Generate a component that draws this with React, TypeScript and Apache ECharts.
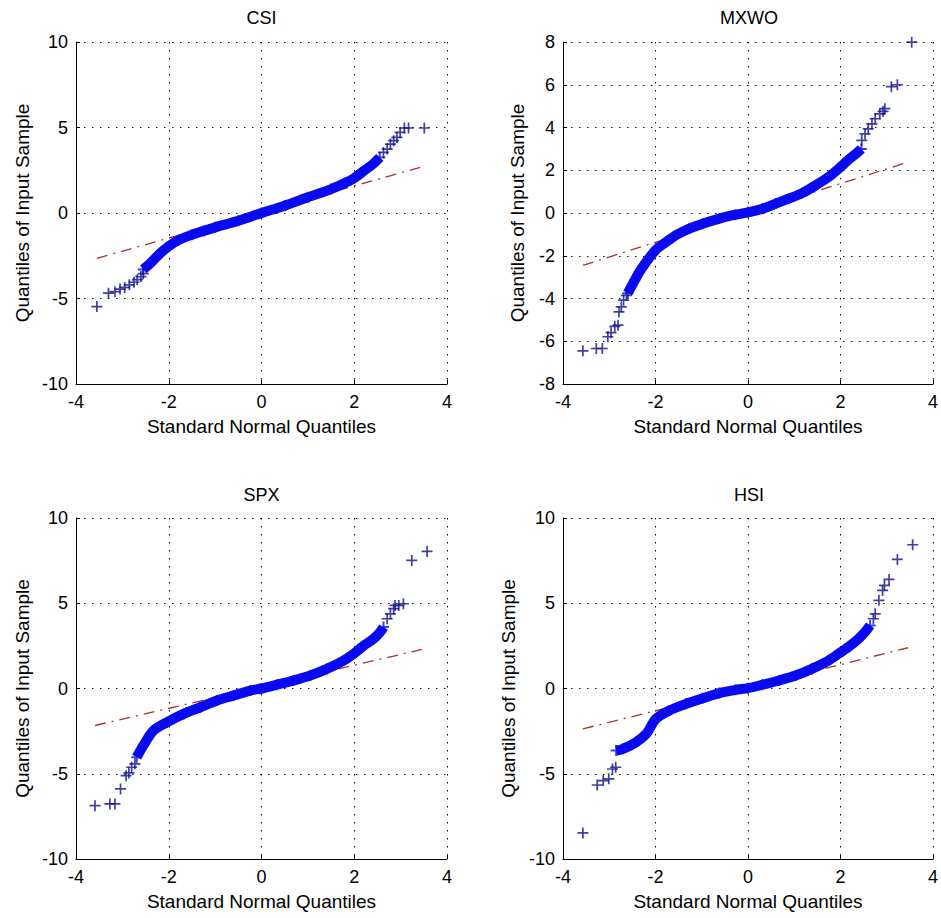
import React, { useEffect, useRef } from "react";
import * as echarts from "echarts";

// ---- data ----
const panelNames = ["CSI", "MXWO", "SPX", "HSI"];
const xTicks = { min: -4, max: 4, interval: 2 };
const yRanges = [
  { min: -10, max: 10, interval: 5 },
  { min: -8, max: 8, interval: 2 },
  { min: -10, max: 10, interval: 5 },
  { min: -10, max: 10, interval: 5 },
];

const csiBand: number[][] = [
  [-2.55, -3.3], [-2.4, -2.95], [-2.2, -2.4], [-2.0, -1.95], [-1.8, -1.6], [-1.5, -1.27],
  [-1.25, -1.05], [-1.0, -0.84], [-0.5, -0.45], [0, 0], [0.5, 0.43], [1.0, 0.92],
  [1.5, 1.4], [1.8, 1.75], [2.0, 2.04], [2.2, 2.45], [2.4, 2.85], [2.55, 3.25],
];
const csiTail: number[][] = [
  [-3.55, -5.47], [-3.3, -4.69], [-3.16, -4.6], [-3.05, -4.45], [-2.95, -4.35], [-2.85, -4.2],
  [-2.75, -4.05], [-2.68, -3.9], [-2.6, -3.72], [-2.55, -3.55],
  [2.63, 3.54], [2.71, 3.74], [2.78, 4.03], [2.85, 4.23], [2.92, 4.42], [2.99, 4.71],
  [3.08, 4.97], [3.17, 4.97], [3.51, 4.97],
];
const csiRef: number[][] = [[-3.55, -2.65], [3.5, 2.73]];

const mxwoBand: number[][] = [
  [-2.6, -3.75], [-2.45, -3.15], [-2.35, -2.76], [-2.2, -2.29], [-2.0, -1.74], [-1.77, -1.36],
  [-1.56, -1.04], [-1.27, -0.73], [-0.98, -0.5], [-0.62, -0.26], [-0.27, -0.08], [0, 0.03],
  [0.31, 0.2], [0.6, 0.44], [0.88, 0.67], [1.17, 0.93], [1.46, 1.29], [1.74, 1.68],
  [2.0, 2.15], [2.17, 2.49], [2.35, 2.8], [2.45, 3.0],
];
const mxwoTail: number[][] = [
  [-3.57, -6.45], [-3.28, -6.34], [-3.15, -6.34], [-3.03, -5.79], [-2.96, -5.6], [-2.88, -5.3],
  [-2.81, -5.25], [-2.79, -4.63], [-2.74, -4.39], [-2.69, -4.08], [-2.63, -3.85],
  [2.46, 3.4], [2.53, 3.7], [2.6, 3.94], [2.68, 4.17], [2.75, 4.41], [2.85, 4.64],
  [2.92, 4.75], [2.96, 4.88], [3.1, 5.91], [3.23, 6.0], [3.54, 7.99],
];
const mxwoRef: number[][] = [[-3.57, -2.45], [3.46, 2.38]];

const spxBand: number[][] = [
  [-2.69, -4.03], [-2.55, -3.35], [-2.33, -2.47], [-2.04, -1.98], [-1.68, -1.49], [-1.32, -1.1],
  [-0.96, -0.7], [-0.6, -0.41], [-0.24, -0.12], [0, 0], [0.33, 0.22], [0.69, 0.47],
  [1.05, 0.76], [1.41, 1.15], [1.77, 1.64], [1.99, 2.04], [2.21, 2.52], [2.42, 2.92],
  [2.56, 3.31], [2.63, 3.6],
];
const spxTail: number[][] = [
  [-3.59, -6.87], [-3.27, -6.77], [-3.16, -6.77], [-3.04, -5.89], [-2.92, -5.11], [-2.86, -4.95],
  [-2.8, -4.62], [-2.73, -4.42],
  [2.71, 4.09], [2.78, 4.38], [2.85, 4.68], [2.88, 4.87], [2.96, 4.87], [3.06, 4.97],
  [3.24, 7.51], [3.57, 8.04],
];
const spxRef: number[][] = [[-3.59, -2.17], [3.46, 2.29]];

const hsiBand: number[][] = [
  [-2.85, -3.64], [-2.7, -3.54], [-2.42, -3.15], [-2.2, -2.66], [-1.99, -1.78], [-1.7, -1.29],
  [-1.34, -0.9], [-0.98, -0.57], [-0.62, -0.27], [-0.27, -0.08], [0, 0.02], [0.31, 0.22],
  [0.67, 0.47], [1.03, 0.76], [1.38, 1.15], [1.74, 1.64], [1.96, 2.04], [2.17, 2.43],
  [2.39, 2.92], [2.53, 3.31], [2.64, 3.7],
];
const hsiTail: number[][] = [
  [-3.57, -8.47], [-3.26, -5.66], [-3.13, -5.4], [-3.01, -5.3], [-2.93, -4.72], [-2.86, -4.62],
  [2.71, 4.09], [2.75, 4.38], [2.83, 5.17], [2.91, 5.75], [2.95, 6.05], [3.05, 6.4],
  [3.23, 7.57], [3.56, 8.43],
];
const hsiRef: number[][] = [[-3.57, -2.37], [3.46, 2.39]];

const bands = [csiBand, mxwoBand, spxBand, hsiBand];
const tails = [csiTail, mxwoTail, spxTail, hsiTail];
const refs = [csiRef, mxwoRef, spxRef, hsiRef];

// ---- layout ----
const grids = [
  { left: 76, top: 42, width: 371, height: 342 },
  { left: 563, top: 42, width: 372, height: 342 },
  { left: 76, top: 518, width: 371, height: 341 },
  { left: 563, top: 518, width: 372, height: 341 },
];
const titleTops = [9, 9, 486, 486];
const yNameGaps = [44, 36, 44, 45];

const FONT = "'Liberation Sans', Arial, Helvetica, sans-serif";
const PLUS = "path://M0,5L10,5M5,0L5,10";

export default function App() {
  const ref = useRef<HTMLDivElement>(null);
  useEffect(() => {
    if (!ref.current) return;
    const chart = echarts.init(ref.current, undefined, { renderer: "svg" });
    const axisCommon = {
      axisLine: { show: true, onZero: false, lineStyle: { color: "#000", width: 1 } },
      axisTick: { show: true, inside: true, length: 4, lineStyle: { color: "#000" } },
      splitLine: { show: true, lineStyle: { color: "#111", type: [1.5, 6.5], width: 1 } },
      axisLabel: { color: "#000", fontSize: 18, fontFamily: FONT },
      nameLocation: "middle" as const,
      nameTextStyle: { color: "#000", fontSize: 19, fontFamily: FONT },
    };
    const series: any[] = [];
    for (let i = 0; i < 4; i++) {
      series.push({
        type: "line",
        xAxisIndex: i,
        yAxisIndex: i,
        data: refs[i],
        showSymbol: false,
        silent: true,
        z: 1,
        lineStyle: { color: "#b03030", width: 1.3, type: [11, 6, 2, 6] },
      });
      series.push({
        type: "line",
        xAxisIndex: i,
        yAxisIndex: i,
        data: bands[i],
        showSymbol: false,
        smooth: 0.3,
        silent: true,
        z: 2,
        lineStyle: { color: "#0a0af0", width: 10, cap: "butt", join: "round" },
      });
      series.push({
        type: "scatter",
        xAxisIndex: i,
        yAxisIndex: i,
        data: bands[i],
        symbol: PLUS,
        symbolSize: 11,
        silent: true,
        z: 3,
        itemStyle: { color: "rgba(0,0,0,0)", borderColor: "#0a0af0", borderWidth: 2 },
      });
      series.push({
        type: "scatter",
        xAxisIndex: i,
        yAxisIndex: i,
        data: tails[i],
        symbol: PLUS,
        symbolSize: 11,
        silent: true,
        z: 4,
        itemStyle: { color: "rgba(0,0,0,0)", borderColor: "#10108c", borderWidth: 1.7 },
      });
    }
    chart.setOption({
      animation: false,
      backgroundColor: "#fff",
      title: panelNames.map((n, i) => ({
        text: n,
        left: grids[i].left + grids[i].width / 2,
        top: titleTops[i],
        textAlign: "center",
        padding: 0,
        textStyle: { color: "#000", fontSize: 18, fontWeight: "normal", fontFamily: FONT },
      })),
      grid: grids.map((g) => ({ ...g, containLabel: false })),
      xAxis: grids.map((_, i) => ({
        ...axisCommon,
        type: "value",
        gridIndex: i,
        min: xTicks.min,
        max: xTicks.max,
        interval: xTicks.interval,
        name: "Standard Normal Quantiles",
        nameGap: 33,
        axisLabel: { ...axisCommon.axisLabel, margin: 9 },
      })),
      yAxis: grids.map((_, i) => ({
        ...axisCommon,
        type: "value",
        gridIndex: i,
        min: yRanges[i].min,
        max: yRanges[i].max,
        interval: yRanges[i].interval,
        name: "Quantiles of Input Sample",
        nameGap: yNameGaps[i],
        axisLabel: { ...axisCommon.axisLabel, margin: 8 },
      })),
      series,
    });
    return () => chart.dispose();
  }, []);
  return (
    <div
      ref={ref}
      style={{ position: "fixed", left: 0, top: 0, width: 941, height: 918, background: "#fff" }}
    />
  );
}
